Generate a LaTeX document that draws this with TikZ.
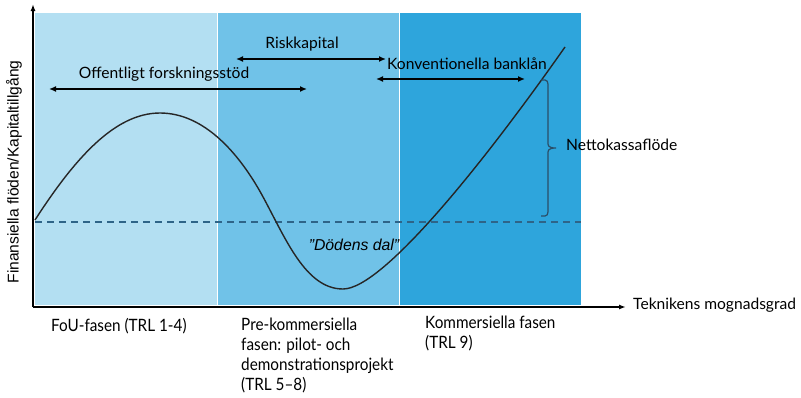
\documentclass[tikz,border=0pt]{standalone}
\usepackage{fontspec}
\setmainfont{Lato}
\newfontfamily\arialfont{Liberation Sans}
\newfontfamily\narrowfont[FakeStretch=0.9]{Lato}
\usetikzlibrary{arrows.meta}
\definecolor{phaseA}{HTML}{B3DFF2}
\definecolor{phaseB}{HTML}{70C2E8}
\definecolor{phaseC}{HTML}{2EA5DC}
\definecolor{dashcol}{HTML}{2E6488}
\definecolor{bracecol}{HTML}{2A4E68}
\tikzset{
  axisline/.style={line width=1.4pt, -{Latex[length=7pt,width=5pt]}},
  finrange/.style={line width=1.3pt, {Latex[length=7pt,width=6pt]}-{Latex[length=7pt,width=6pt]}},
  lbl/.style={font=\fontsize{15.6}{18}\selectfont, inner sep=0pt},
  bottomlbl/.style={font=\narrowfont\fontsize{17}{20}\selectfont, inner sep=0pt, anchor=north west, align=left},
}
\begin{document}
\begin{tikzpicture}[x=1pt,y=-1pt]
\useasboundingbox (0,0) rectangle (801,397);
% phases
\fill[phaseA] (35,13) rectangle (217,305);
\fill[phaseB] (217,13) rectangle (399,305);
\fill[phaseC] (399,13) rectangle (581,305);
\draw[white, line width=1pt] (217,13) -- (217,305) (399,13) -- (399,305);
% dashed line
\draw[dashcol, line width=1.3pt, dash pattern=on 7pt off 5pt] (35,222) -- (581,222);
% axes
\coordinate (origin) at (33,307);
\coordinate (ytop) at (33,4);
\coordinate (xend) at (626,307);
\draw[axisline] (origin) -- (ytop);
\draw[axisline] (origin) -- (xend);
% curve
\draw[line width=1.4pt, black!85] (35,220) .. controls (75,158) and (115,113) .. (160,113)
  .. controls (205,113) and (240,155) .. (262,195)
  .. controls (285,237) and (305,289) .. (343,289)
  .. controls (383,289) and (485,161) .. (565,47);
% ranges
\coordinate (o1) at (49,89); \coordinate (o2) at (307,89);
\coordinate (r1) at (236,59); \coordinate (r2) at (386,59);
\coordinate (k1) at (376,79); \coordinate (k2) at (525,79);
\draw[finrange] (o1) -- (o2);
\draw[finrange] (r1) -- (r2);
\draw[finrange] (k1) -- (k2);
\node[lbl] (offl) at (164,74) {Offentligt forskningsstöd};
\node[lbl] (risk) at (302,44) {Riskkapital};
\node[lbl] (konv) at (467,64) {Konventionella banklån};
% brace
\draw[bracecol, line width=1.2pt] (541,80) -- (545,80) to[out=0,in=90] (548,84) -- (548,144) to[out=-90,in=180] (556,148) to[out=180,in=90] (548,152) -- (548,212) to[out=-90,in=0] (545,216) -- (541,216);
\node[lbl, anchor=west] (netto) at (566,145) {Nettokassaflöde};
% death valley
\node[inner sep=0pt, font=\arialfont\itshape\fontsize{15.8}{18}\selectfont] (dal) at (354,245) {”Dödens dal”};
% axis labels
\node[lbl, anchor=west] (xlab) at (633,305) {Teknikens mognadsgrad};
\node[inner sep=0pt, rotate=90, font=\arialfont\fontsize{15.6}{18}\selectfont] (ylab) at (14,172) {Finansiella flöden/Kapitaltillgång};
% phase labels
\node[bottomlbl] (p1) at (51,318) {FoU-fasen (TRL 1-4)};
\node[bottomlbl] (p2) at (241,318) {Pre-kommersiella\\fasen: pilot- och\\demonstrationsprojekt\\(TRL 5–8)};
\node[bottomlbl] (p3) at (425,316) {Kommersiella fasen\\(TRL 9)};
\end{tikzpicture}
\end{document}
